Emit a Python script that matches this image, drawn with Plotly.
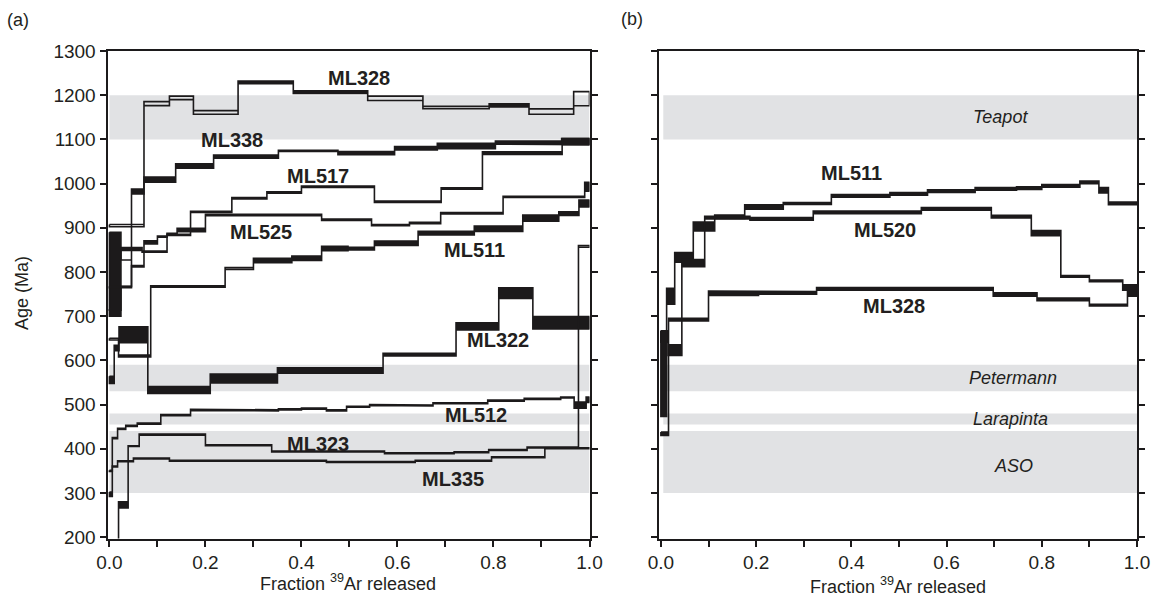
import plotly.graph_objects as go

W, H = 1156, 607

# ---------------- data: panel (a) ----------------
# each spectrum: cumulative 39Ar fraction edges, step ages (Ma), 1-sigma half-width (Ma), solid (plateau) step indices
ml328a_edges = [0, 0.072, 0.125, 0.175, 0.268, 0.383, 0.538, 0.653, 0.791, 0.874, 0.967, 1.0]
ml328a_ages = [905, 1181, 1194, 1161, 1229, 1207, 1193, 1172, 1177, 1163, 1192]
ml328a_errs = [2.5, 4.5, 4, 4, 3, 3, 5, 2.7, 3.5, 6, 16]
ml328a_solid = [4, 5, 8]

ml338a_edges = [0, 0.024, 0.046, 0.072, 0.138, 0.217, 0.352, 0.476, 0.594, 0.683, 0.804, 0.942, 1.0]
ml338a_ages = [795, 797, 982, 1009, 1040, 1061, 1074, 1069, 1080, 1085, 1093, 1095]
ml338a_errs = [95, 30, 5.5, 6, 5, 3.5, 1.5, 3.5, 4, 6, 3.5, 7]
ml338a_solid = [0, 2, 3, 4, 5, 7, 8, 9, 10, 11]

ml517a_edges = [0, 0.024, 0.068, 0.12, 0.169, 0.255, 0.328, 0.40, 0.552, 0.691, 0.777, 0.943, 1.0]
ml517a_ages = [715, 852, 846, 884, 936, 967, 980, 993, 959, 989, 1069, 1095]
ml517a_errs = [1.5, 3.5, 1.5, 1.5, 1.5, 1.5, 1.5, 1.5, 1.5, 1.5, 3, 7]
ml517a_solid = [1, 10, 11]

ml525a_edges = [0, 0.046, 0.072, 0.10, 0.12, 0.141, 0.20, 0.442, 0.546, 0.625, 0.69, 0.82, 0.99, 1.0]
ml525a_ages = [766, 813, 867, 880, 886, 895, 929, 918, 906, 911, 933, 970, 993]
ml525a_errs = [1.5, 1.5, 3.5, 1.5, 1.5, 4, 1.5, 1.5, 1.5, 1.5, 1.5, 1.5, 10]
ml525a_solid = [2, 5, 12]

ml511a_edges = [0, 0.019, 0.086, 0.241, 0.30, 0.38, 0.442, 0.497, 0.552, 0.643, 0.76, 0.861, 0.936, 0.978, 1.0]
ml511a_ages = [648, 610, 767, 808, 826, 831, 853, 853, 865, 888, 898, 922, 932, 955]
ml511a_errs = [2, 2, 1.5, 2, 5, 5, 5, 3, 5, 4, 6, 7, 4, 8]
ml511a_solid = [4, 5, 6, 7, 8, 9, 10, 11, 12, 13]

ml322a_edges = [0, 0.01, 0.02, 0.08, 0.21, 0.35, 0.57, 0.722, 0.811, 0.882, 1.0]
ml322a_ages = [556, 628, 658, 533, 559, 577, 613, 677, 752, 685]
ml322a_errs = [8, 6, 18, 8, 10, 6, 3, 8, 12, 14]
ml322a_solid = [0, 1, 2, 3, 4, 5, 6, 7, 8, 9]

ml512a_edges = [0, 0.006, 0.017, 0.034, 0.058, 0.107, 0.169, 0.252, 0.352, 0.40, 0.452, 0.494,
                0.542, 0.594, 0.674, 0.788, 0.864, 0.94, 0.968, 0.993, 1.0]
ml512a_ages = [350, 424, 445, 452, 457, 476, 488, 487, 489, 491, 487, 495, 499, 498, 503, 509,
               513, 516, 499, 511]
ml512a_errs = [1.2] * 18 + [7, 6]
ml512a_solid = [18, 19]

ml323a_edges = [0, 0.019, 0.039, 0.062, 0.20, 0.338, 0.573, 0.718, 0.79, 0.87, 0.977, 1.0]
ml323a_ages = [150, 273, 406, 432, 408, 394, 390, 392, 397, 403, 858]
ml323a_errs = [1, 7, 1, 1.5, 1, 1, 1, 1, 1, 1, 2]
ml323a_solid = [1]

ml335a_edges = [0, 0.006, 0.017, 0.05, 0.125, 0.452, 0.637, 0.796, 0.907, 1.0]
ml335a_ages = [297, 360, 372, 378, 373, 370, 373, 381, 401]
ml335a_errs = [5, 1, 1, 1, 1, 1, 1, 1, 1]
ml335a_solid = [0]

# ---------------- data: panel (b) ----------------
ml328b_edges = [0, 0.016, 0.10, 0.205, 0.327, 0.698, 0.79, 0.90, 0.98, 1.0]
ml328b_ages = [434, 692, 752, 753, 762, 749, 738, 725, 755]
ml328b_errs = [4, 3, 5, 3, 3, 4, 3, 2, 10]
ml328b_solid = [0, 1, 2, 3, 4, 5, 6, 7, 8]

ml511b_edges = [0, 0.012, 0.029, 0.068, 0.113, 0.176, 0.257, 0.358, 0.481, 0.56, 0.66, 0.747,
                0.80, 0.88, 0.92, 0.94, 1.0]
ml511b_ages = [570, 745, 833, 903, 925, 947, 955, 972, 977, 983, 988, 990, 995, 1003, 985, 955]
ml511b_errs = [97, 18, 11, 10, 4, 5, 2, 3, 3, 3, 3, 3, 3, 3, 6, 3]
ml511b_solid = [0, 1, 2, 3, 4, 5, 6, 7, 8, 9, 10, 11, 12, 13, 14, 15]

ml520b_edges = [0, 0.015, 0.044, 0.092, 0.187, 0.32, 0.547, 0.694, 0.778, 0.84, 0.90, 0.97, 1.0]
ml520b_ages = [654, 623, 820, 923, 920, 935, 943, 925, 888, 790, 780, 765]
ml520b_errs = [13, 12, 8, 3, 3, 3, 3, 3, 6, 2, 2, 6]
ml520b_solid = [0, 1, 2, 3, 4, 5, 6, 7, 8, 9, 10, 11]

# reference age bands (Ma)
band_names = ["Teapot", "Petermann", "Larapinta", "ASO"]
band_lo = [1100, 530, 455, 300]
band_hi = [1200, 590, 480, 440]
band_label_x = [0.713, 0.74, 0.734, 0.74]
band_label_y = [1150, 560, 467, 362]

# spectrum labels
labels_a = ["ML328", "ML338", "ML517", "ML525", "ML511", "ML322", "ML512", "ML323", "ML335"]
labels_a_x = [0.52, 0.255, 0.435, 0.315, 0.76, 0.81, 0.763, 0.435, 0.715]
labels_a_y = [1240, 1098, 1017, 890, 850, 645, 477, 410, 332]
labels_b = ["ML511", "ML520", "ML328"]
labels_b_x = [0.40, 0.47, 0.49]
labels_b_y = [1023, 895, 723]

INK = "#1c1a1b"
TXT = "#231f20"
BAND = "#e1e2e4"
FONT = "Liberation Sans, Arial, Helvetica, sans-serif"

fig = go.Figure()


def add_spectrum(edges, ages, errs, solid, xa, ya):
    n = len(ages)
    top = [a + e for a, e in zip(ages, errs)]
    bot = [a - e for a, e in zip(ages, errs)]
    # filled plateau boxes
    fx, fy = [], []
    for i in solid:
        fx += [edges[i], edges[i + 1], edges[i + 1], edges[i], edges[i], None]
        fy += [bot[i], bot[i], top[i], top[i], bot[i], None]
    if fx:
        fig.add_trace(go.Scatter(x=fx, y=fy, mode="lines", fill="toself", fillcolor=INK,
                                 line=dict(width=0, color=INK), xaxis=xa, yaxis=ya,
                                 hoverinfo="skip", showlegend=False))
    # outline envelope (step boxes)
    ox, oy = [], []
    for i in range(n):
        ox += [edges[i], edges[i + 1]]
        oy += [top[i], top[i]]
    for i in reversed(range(n)):
        ox += [edges[i + 1], edges[i]]
        oy += [bot[i], bot[i]]
    ox.append(edges[0])
    oy.append(top[0])
    fig.add_trace(go.Scatter(x=ox, y=oy, mode="lines", line=dict(width=1.6, color=INK),
                             xaxis=xa, yaxis=ya, hoverinfo="skip", showlegend=False))


spectra_a = [
    (ml328a_edges, ml328a_ages, ml328a_errs, ml328a_solid),
    (ml338a_edges, ml338a_ages, ml338a_errs, ml338a_solid),
    (ml517a_edges, ml517a_ages, ml517a_errs, ml517a_solid),
    (ml525a_edges, ml525a_ages, ml525a_errs, ml525a_solid),
    (ml511a_edges, ml511a_ages, ml511a_errs, ml511a_solid),
    (ml322a_edges, ml322a_ages, ml322a_errs, ml322a_solid),
    (ml512a_edges, ml512a_ages, ml512a_errs, ml512a_solid),
    (ml323a_edges, ml323a_ages, ml323a_errs, ml323a_solid),
    (ml335a_edges, ml335a_ages, ml335a_errs, ml335a_solid),
]
spectra_b = [
    (ml328b_edges, ml328b_ages, ml328b_errs, ml328b_solid),
    (ml511b_edges, ml511b_ages, ml511b_errs, ml511b_solid),
    (ml520b_edges, ml520b_ages, ml520b_errs, ml520b_solid),
]
for s in spectra_a:
    add_spectrum(*s, "x", "y")
for s in spectra_b:
    add_spectrum(*s, "x2", "y2")

# bands
shapes = []
for lo, hi in zip(band_lo, band_hi):
    shapes.append(dict(type="rect", xref="x", yref="y", x0=0, x1=1, y0=lo, y1=hi,
                       fillcolor=BAND, line=dict(width=0), layer="below"))
    shapes.append(dict(type="rect", xref="x2", yref="y2", x0=0.005, x1=1, y0=lo, y1=hi,
                       fillcolor=BAND, line=dict(width=0), layer="below"))

annotations = []
for t, x, y in zip(labels_a, labels_a_x, labels_a_y):
    annotations.append(dict(text="<b>" + t + "</b>", x=x, y=y, xref="x", yref="y", showarrow=False,
                            xanchor="center", yanchor="middle",
                            font=dict(size=20, color=TXT, family=FONT)))
for t, x, y in zip(labels_b, labels_b_x, labels_b_y):
    annotations.append(dict(text="<b>" + t + "</b>", x=x, y=y, xref="x2", yref="y2", showarrow=False,
                            xanchor="center", yanchor="middle",
                            font=dict(size=20, color=TXT, family=FONT)))
for name, x, y in zip(band_names, band_label_x, band_label_y):
    annotations.append(dict(text="<i>" + name + "</i>", x=x, y=y, xref="x2", yref="y2",
                            xanchor="center", yanchor="middle",
                            showarrow=False, font=dict(size=18, color=TXT, family=FONT)))


def px(xp, yp):
    return xp / W, 1 - yp / H


def paper_text(txt, xp, yp, angle=0):
    ax_, ay_ = px(xp, yp)
    annotations.append(dict(text=txt, x=ax_, y=ay_, xref="paper", yref="paper", showarrow=False,
                            xanchor="center", yanchor="middle", textangle=angle,
                            font=dict(size=18, color=TXT, family=FONT)))


paper_text("(a)", 18, 20)
paper_text("(b)", 632, 19)
paper_text("Fraction <sup>39</sup>Ar released", 348, 582)
paper_text("Fraction <sup>39</sup>Ar released", 898, 585)
paper_text("Age (Ma)", 22, 293, angle=-90)

xticks = [0, 0.2, 0.4, 0.6, 0.8, 1.0]
xticktext = ["0.0", "0.2", "0.4", "0.6", "0.8", "1.0"]
yticks = list(range(200, 1301, 100))

common_x = dict(range=[-0.004, 1.0], tickvals=xticks, ticktext=xticktext, ticks="outside",
                ticklen=6, tickwidth=2, tickcolor=INK, showline=True, linewidth=2, linecolor=INK,
                mirror=True, showgrid=False, zeroline=False, automargin=False,
                minor=dict(dtick=0.1, tick0=0, ticks="outside", ticklen=6, tickwidth=2, tickcolor=INK),
                tickfont=dict(size=19, color=TXT, family=FONT))
common_y = dict(range=[197, 1300], tickvals=yticks, ticks="outside", ticklen=6, tickwidth=2,
                tickcolor=INK, showline=True, linewidth=2, linecolor=INK, mirror="ticks",
                showgrid=False, zeroline=False, automargin=False,
                tickfont=dict(size=19, color=TXT, family=FONT))

ydom = [(607 - 538.5) / 607, (607 - 51) / 607]
fig.update_layout(
    width=W, height=H, margin=dict(l=0, r=0, t=0, b=0, autoexpand=False),
    paper_bgcolor="white", plot_bgcolor="white",
    xaxis=dict(domain=[107.5 / W, 589.5 / W], anchor="y", **common_x),
    yaxis=dict(domain=ydom, anchor="x", **common_y),
    xaxis2=dict(domain=[659 / W, 1137 / W], anchor="y2", **common_x),
    yaxis2=dict(domain=ydom, anchor="x2", showticklabels=False, **common_y),
    shapes=shapes, annotations=annotations, showlegend=False,
)

fig.write_html("out.html")
